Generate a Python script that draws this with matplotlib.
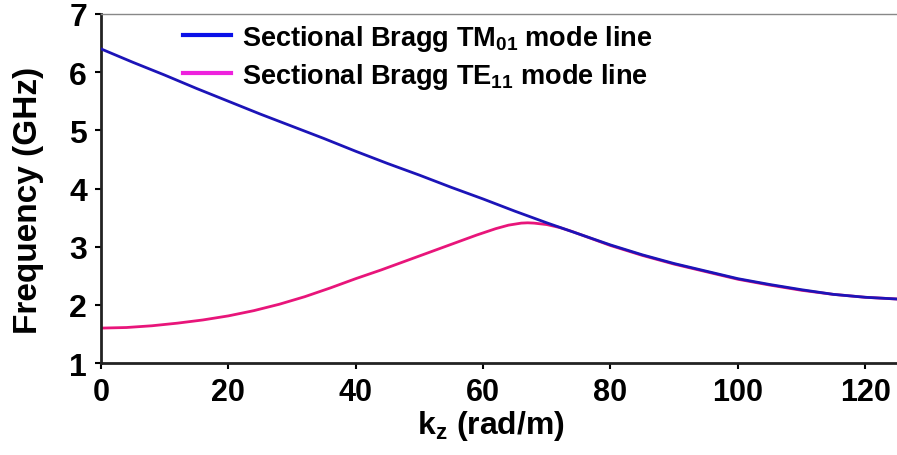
import matplotlib
matplotlib.use("Agg")
import matplotlib.pyplot as plt
from matplotlib.lines import Line2D

plt.rcParams["font.family"] = ["Liberation Sans", "DejaVu Sans"]
plt.rcParams["font.weight"] = "bold"
plt.rcParams["mathtext.fontset"] = "custom"
plt.rcParams["mathtext.rm"] = "Liberation Sans:bold"
plt.rcParams["mathtext.it"] = "Liberation Sans:bold"
plt.rcParams["mathtext.bf"] = "Liberation Sans:bold"

kz_tm = [0, 5, 10, 15, 20, 25, 30, 35, 40, 45, 50, 55, 60, 65, 70, 75,
         80, 85, 90, 95, 100, 105, 110, 115, 120, 125]
f_tm = [6.40, 6.17, 5.95, 5.72, 5.50, 5.28, 5.07, 4.86, 4.64, 4.43, 4.23,
        4.02, 3.82, 3.61, 3.41, 3.22, 3.03, 2.86, 2.71, 2.58, 2.45, 2.35,
        2.26, 2.18, 2.13, 2.10]

kz_te = [0, 4, 8, 12, 16, 20, 24, 28, 32, 36, 40, 44, 48, 52, 56, 59,
         62, 64, 66, 67, 68, 70, 72, 74, 76, 78, 80, 85, 90, 95, 100,
         105, 110, 115, 120, 125]
f_te = [1.60, 1.61, 1.64, 1.685, 1.74, 1.81, 1.90, 2.01, 2.14, 2.29, 2.45,
        2.60, 2.76, 2.92, 3.08, 3.20, 3.31, 3.37, 3.405, 3.41, 3.405, 3.38,
        3.33, 3.26, 3.18, 3.10, 3.02, 2.85, 2.70, 2.57, 2.44, 2.34, 2.25,
        2.18, 2.13, 2.10]

labels = ["Sectional Bragg TM$_{01}$ mode line",
          "Sectional Bragg TE$_{11}$ mode line"]

fig = plt.figure(figsize=(8.97, 4.56), dpi=100)
ax = fig.add_axes([101 / 897, 1 - 364 / 456, 1 - 101 / 897, 349 / 456])

ax.plot(kz_te, f_te, color="#e8157a", lw=2.0, zorder=2)
ax.plot(kz_tm, f_tm, color="#1c14b8", lw=2.0, zorder=3)

ax.set_xlim(0, 125)
ax.set_ylim(1, 7)
ax.set_xticks([0, 20, 40, 60, 80, 100, 120])
ax.set_yticks([1, 2, 3, 4, 5, 6, 7])
ax.tick_params(axis="both", direction="out", length=4, width=1.5,
               labelsize=22, pad=6)
ax.tick_params(axis="y", labelsize=23)

for side in ["left", "bottom"]:
    ax.spines[side].set_linewidth(2)
    ax.spines[side].set_color("#222222")
ax.spines["top"].set_color("#888888")
ax.spines["top"].set_linewidth(1)
ax.spines["right"].set_visible(False)

ax.set_xlabel("k$_{\\mathrm{z}}$ (rad/m)", fontsize=23, fontweight="bold")
ax.xaxis.set_label_coords(0.49, -0.13)
ax.set_ylabel("Frequency (GHz)", fontsize=24, fontweight="bold")
ax.yaxis.set_label_coords(-0.072, 0.47)

handles = [Line2D([], [], color="#0a10e8", lw=3),
           Line2D([], [], color="#ee22dd", lw=3)]
ax.legend(handles, labels, loc="upper left", bbox_to_anchor=(0.072, 1.045),
          frameon=False, fontsize=19.5, handlelength=1.8, handletextpad=0.4,
          labelspacing=0.3)

fig.savefig("out.png", dpi=100)
